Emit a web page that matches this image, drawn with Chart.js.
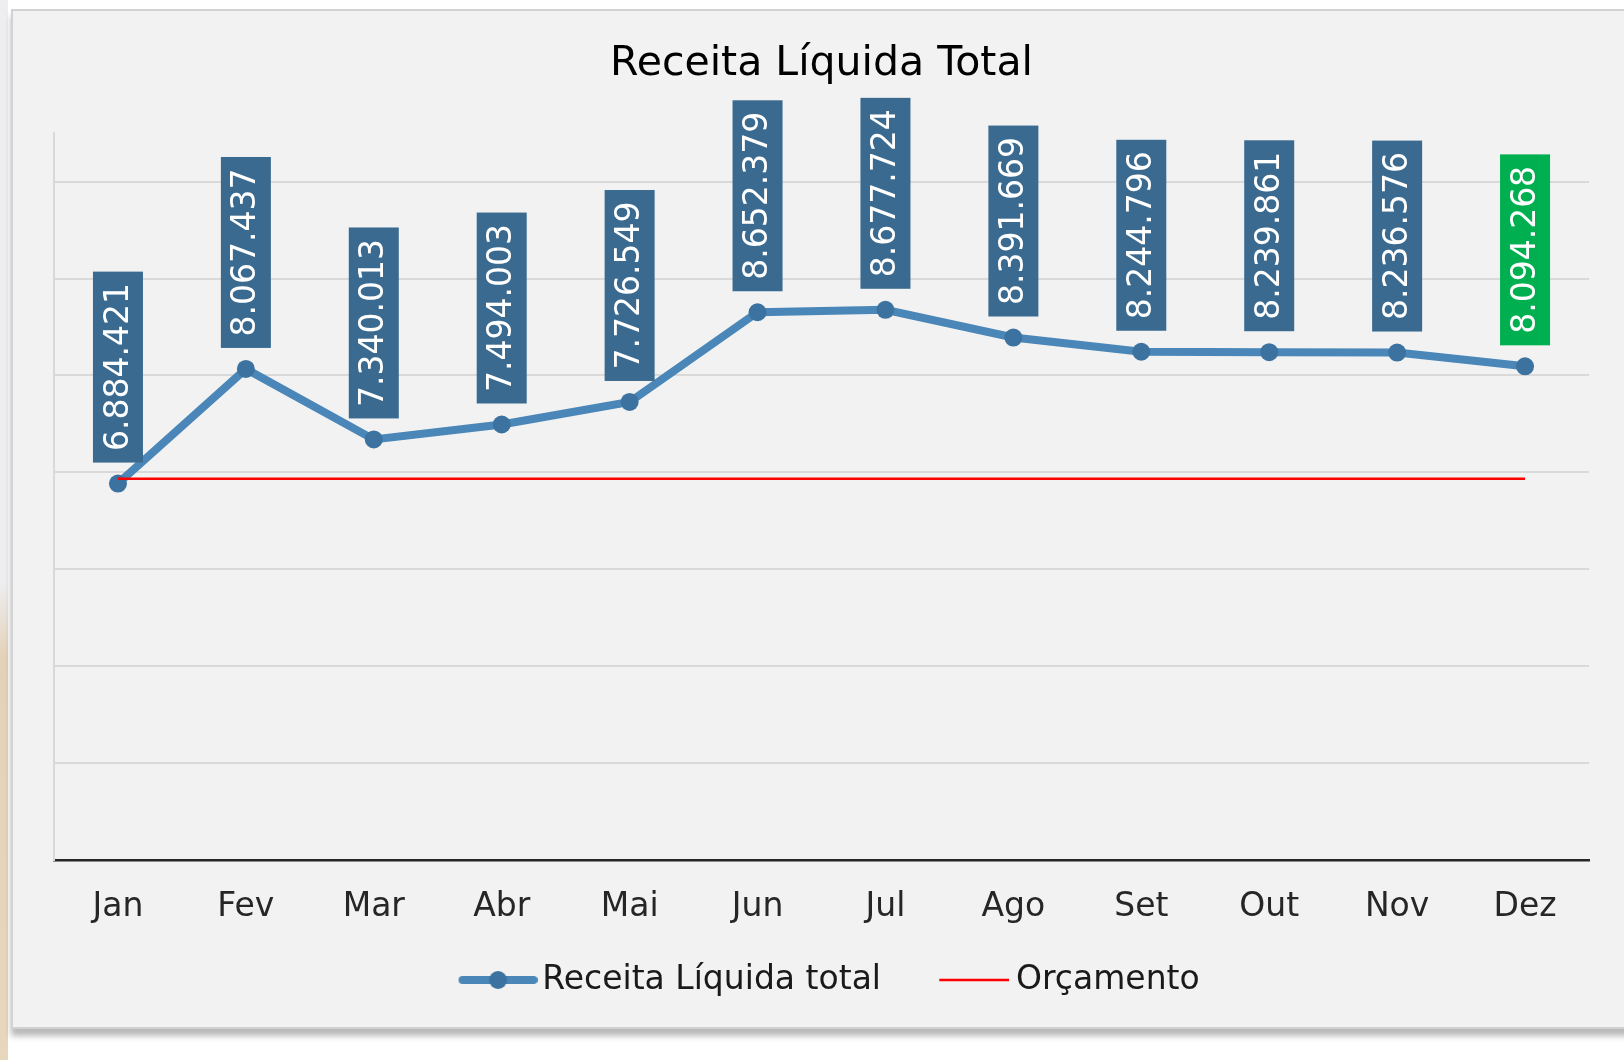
<!DOCTYPE html>
<html lang="pt-BR">
<head>
<meta charset="utf-8">
<title>Receita Líquida Total</title>
<script src="https://cdn.jsdelivr.net/npm/chart.js@4.4.1/dist/chart.umd.min.js"></script>
<style>
  html, body { margin:0; padding:0; width:1624px; height:1060px; overflow:hidden; background:#ffffff; }
  .strip { position:absolute; left:0; top:0; width:8px; height:1060px;
    background: linear-gradient(to bottom, #eeeef1 0%, #eeeef0 55%, #e4d2b8 62%, #e8d6bd 100%); }
  .frame { position:absolute; left:11px; top:9px; width:1640px; height:1020px;
    background:#f2f2f2; border:2px solid #d2d2d2; box-sizing:border-box;
    box-shadow: 0 7px 6px rgba(0,0,0,0.28); }
  #chart { position:absolute; left:0; top:0; }
</style>
</head>
<body>
<div class="strip"></div>
<div class="frame"></div>
<canvas id="chart" width="1624" height="1060"></canvas>
<script>
/* Receita Líquida Total — line vs. budget, labels as rotated boxes */
const months    = ['Jan','Fev','Mar','Abr','Mai','Jun','Jul','Ago','Set','Out','Nov','Dez'];
const receita   = [6884421, 8067437, 7340013, 7494003, 7726549, 8652379, 8677724, 8391669, 8244796, 8239861, 8236576, 8094268];
const orcamento = [6935000, 6935000, 6935000, 6935000, 6935000, 6935000, 6935000, 6935000, 6935000, 6935000, 6935000, 6935000];
const yMin = 3000000, yMax = 10500000, yGrid = 1000000;

const FONT     = "'DejaVu Sans', Verdana, sans-serif";
const LINE_COL = '#4a87b8';
const DOT_COL  = '#3c72a0';
const BOX_COL  = '#3a6a8f';
const LAST_COL = '#00b050';
const RED      = '#ff0000';

const fmt = v => String(v).replace(/\B(?=(\d{3})+(?!\d))/g, '.');

// legend swatches drawn on small canvases (centred on the legend box)
function swatch(w, h, draw) {
  const c = document.createElement('canvas');
  c.width = w; c.height = h;
  draw(c.getContext('2d'));
  return c;
}
const blueSwatch = swatch(106, 20, g => {
  g.strokeStyle = LINE_COL; g.lineWidth = 8; g.lineCap = 'round';
  g.beginPath(); g.moveTo(31, 10); g.lineTo(102, 10); g.stroke();
  g.fillStyle = DOT_COL; g.beginPath(); g.arc(66.5, 10, 9, 0, Math.PI*2); g.fill();
});
const redSwatch = swatch(102, 6, g => {
  g.strokeStyle = RED; g.lineWidth = 2.5;
  g.beginPath(); g.moveTo(32, 3); g.lineTo(102, 3); g.stroke();
});

// value boxes above each point
const valueBoxes = {
  id: 'valueBoxes',
  afterDatasetsDraw(chart) {
    const meta = chart.getDatasetMeta(0);
    const ctx = chart.ctx;
    ctx.save();
    ctx.font = '33px ' + FONT;
    meta.data.forEach((pt, i) => {
      const txt = fmt(receita[i]);
      const tw = ctx.measureText(txt).width;
      const bw = 50, bh = tw + 23;
      const bottom = pt.y - 21;
      ctx.fillStyle = i === receita.length - 1 ? LAST_COL : BOX_COL;
      ctx.fillRect(pt.x - bw/2, bottom - bh, bw, bh);
      ctx.save();
      ctx.translate(pt.x + 1, bottom - bh/2);
      ctx.rotate(-Math.PI/2);
      ctx.fillStyle = '#ffffff';
      ctx.textAlign = 'center';
      ctx.textBaseline = 'middle';
      ctx.fillText(txt, 0, 0);
      ctx.restore();
    });
    ctx.restore();
  }
};

new Chart(document.getElementById('chart'), {
  type: 'line',
  data: {
    labels: months,
    datasets: [
      { label: 'Receita Líquida total', data: receita, borderColor: LINE_COL, borderWidth: 8,
        pointRadius: 9, pointBackgroundColor: DOT_COL, pointBorderWidth: 0, tension: 0, order: 1 },
      { label: 'Orçamento', data: orcamento, borderColor: RED, borderWidth: 2.5,
        pointRadius: 0, tension: 0, order: 0 }
    ]
  },
  options: {
    responsive: false, devicePixelRatio: 1, animation: false,
    layout: { padding: { left: 54, right: 35, top: 10, bottom: 53.5 } },
    plugins: {
      title: { display: true, text: 'Receita Líquida Total', color: '#000',
        font: { family: FONT, size: 41, weight: 'normal' }, padding: { top: 30, bottom: 44 } },
      legend: {
        position: 'bottom',
        labels: {
          usePointStyle: true, pointStyleWidth: 82.5, padding: 36, color: '#1a1a1a',
          font: { family: FONT, size: 33 },
          generateLabels: chart => chart.data.datasets.map((ds, i) => ({
            text: ds.label, datasetIndex: i, hidden: false,
            pointStyle: i === 0 ? blueSwatch : redSwatch,
            fillStyle: ds.borderColor, strokeStyle: ds.borderColor, lineWidth: 0, fontColor: '#1a1a1a'
          }))
        }
      },
      tooltip: { enabled: false }
    },
    scales: {
      x: {
        offset: true,
        grid: { display: false, drawTicks: true, tickLength: 26.5 },
        border: { color: '#262626', width: 2.5 },
        ticks: { color: '#262626', padding: 0.7, font: { family: FONT, size: 33 } }
      },
      y: {
        min: yMin, max: yMax,
        grid: { drawTicks: false, lineWidth: 2,
          color: c => (c.tick && c.tick.value % yGrid === 0 && c.tick.value !== yMin) ? '#d9d9d9' : 'rgba(0,0,0,0)' },
        border: { color: '#d9d9d9', width: 2 },
        ticks: { display: false, stepSize: yGrid / 2 }
      }
    }
  },
  plugins: [valueBoxes]
});
</script>
</body>
</html>
